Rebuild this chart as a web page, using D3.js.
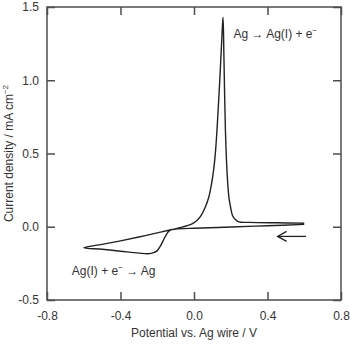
<!DOCTYPE html>
<html>
<head>
<meta charset="utf-8">
<script src="https://cdn.jsdelivr.net/npm/d3@7"></script>
<style>
  body { margin: 0; background: #fff; }
  text { font-family: "Liberation Sans", Arial, sans-serif; fill: #333; }
</style>
</head>
<body>
<svg width="350" height="344"></svg>
<script>
// cathodic sweep, 0.6 V -> -0.6 V
var cathodicE = [0.6, 0.4, 0.2, 0.0, -0.1, -0.125, -0.14, -0.156, -0.17, -0.184, -0.2, -0.22, -0.25, -0.3, -0.4, -0.5, -0.6];
var cathodicI = [0.016, 0.007, -0.002, -0.01, -0.016, -0.021, -0.034, -0.066, -0.1, -0.134, -0.163, -0.177, -0.184, -0.18, -0.167, -0.154, -0.143];

// anodic sweep, -0.6 V -> 0.6 V
var anodicE = [-0.6, -0.5, -0.4, -0.3, -0.2, -0.12, -0.06, -0.02, 0.0, 0.02, 0.04, 0.06, 0.08, 0.095, 0.108, 0.118, 0.127, 0.136, 0.145, 0.152, 0.158,
  0.163, 0.171, 0.18, 0.19, 0.198, 0.21, 0.225, 0.245, 0.3, 0.45, 0.6];
var anodicI = [-0.143, -0.12, -0.096, -0.07, -0.042, -0.019, -0.001, 0.014, 0.028, 0.048, 0.08, 0.13, 0.2, 0.29, 0.4, 0.53, 0.7, 0.9, 1.12, 1.3, 1.43,
  1.15, 0.66, 0.37, 0.2, 0.14, 0.075, 0.05, 0.033, 0.03, 0.027, 0.025];

var xTicks = [-0.8, -0.4, 0.0, 0.4, 0.8];
var yTicks = [-0.5, 0.0, 0.5, 1.0, 1.5];

// annotation positions in data units
var arrowE = [0.61, 0.455];
var arrowI = [-0.066, -0.066];
var oxLabel = [0.215, 1.288];
var redLabel = [-0.665, -0.327];

var svg = d3.select("svg");
var padL = 47, padR = 341, padT = 7, padB = 300;

var x = d3.scaleLinear().domain([-0.8, 0.8]).range([padL, padR]);
var y = d3.scaleLinear().domain([-0.5, 1.5]).range([padB, padT]);

var axisColor = "#4d4d4d";
var tickLen = 8;

function fmt(d) { return d.toFixed(1); }

// bottom axis with labels
svg.append("g")
  .attr("transform", "translate(0," + padB + ")")
  .call(d3.axisBottom(x).tickValues(xTicks).tickFormat(fmt).tickSizeInner(-tickLen).tickSizeOuter(0).tickPadding(11));
// left axis with labels
svg.append("g")
  .attr("transform", "translate(" + padL + ",0)")
  .call(d3.axisLeft(y).tickValues(yTicks).tickFormat(fmt).tickSizeInner(-tickLen).tickSizeOuter(0).tickPadding(8));
// top and right, ticks only
svg.append("g")
  .attr("transform", "translate(0," + padT + ")")
  .call(d3.axisTop(x).tickValues(xTicks).tickFormat("").tickSizeInner(-tickLen).tickSizeOuter(0));
svg.append("g")
  .attr("transform", "translate(" + padR + ",0)")
  .call(d3.axisRight(y).tickValues(yTicks).tickFormat("").tickSizeInner(-tickLen).tickSizeOuter(0));

svg.selectAll(".domain").remove();
svg.selectAll(".tick line").attr("stroke", axisColor).attr("stroke-width", 1.5);
svg.selectAll(".tick text").attr("font-size", "12px").attr("fill", "#333")
  .attr("font-family", "'Liberation Sans', Arial, sans-serif");

svg.append("rect")
  .attr("x", padL).attr("y", padT)
  .attr("width", padR - padL).attr("height", padB - padT)
  .attr("fill", "none").attr("stroke", axisColor).attr("stroke-width", 1.5);

// the voltammogram
var pts = cathodicE.map(function (e, i) { return [e, cathodicI[i]]; })
  .concat(anodicE.map(function (e, i) { return [e, anodicI[i]]; }).slice(1));

var line = d3.line()
  .x(function (d) { return x(d[0]); })
  .y(function (d) { return y(d[1]); })
  .curve(d3.curveCatmullRom.alpha(0.5));

svg.append("path")
  .datum(pts)
  .attr("d", line)
  .attr("fill", "none")
  .attr("stroke", "#222")
  .attr("stroke-width", 1.4)
  .attr("stroke-linejoin", "round");

// scan direction arrow
svg.append("line")
  .attr("x1", x(arrowE[0])).attr("y1", y(arrowI[0]))
  .attr("x2", x(arrowE[1])).attr("y2", y(arrowI[1]))
  .attr("stroke", "#222").attr("stroke-width", 1.3);
svg.append("path")
  .attr("d", "M" + (x(arrowE[1]) + 9) + "," + (y(arrowI[1]) - 5) + "L" + x(arrowE[1]) + "," + y(arrowI[1]) +
    "L" + (x(arrowE[1]) + 9) + "," + (y(arrowI[1]) + 5))
  .attr("fill", "none").attr("stroke", "#222").attr("stroke-width", 1.3);

// reaction labels
var t1 = svg.append("text")
  .attr("x", x(oxLabel[0])).attr("y", y(oxLabel[1]))
  .attr("font-size", "12px");
t1.append("tspan").text("Ag \u2192 Ag(I) + e");
t1.append("tspan").attr("dy", -5).attr("font-size", "8px").text("\u2212");

var t2 = svg.append("text")
  .attr("x", x(redLabel[0])).attr("y", y(redLabel[1]))
  .attr("font-size", "12px");
t2.append("tspan").text("Ag(I) + e");
t2.append("tspan").attr("dy", -5).attr("font-size", "8px").text("\u2212");
t2.append("tspan").attr("dy", 5).text(" \u2192 Ag");

// axis titles
svg.append("text")
  .attr("x", (padL + padR) / 2).attr("y", 337)
  .attr("text-anchor", "middle")
  .attr("font-size", "12px")
  .text("Potential vs. Ag wire / V");

var yt = svg.append("text")
  .attr("transform", "translate(13," + (padT + padB) / 2 + ") rotate(-90)")
  .attr("text-anchor", "middle")
  .attr("font-size", "12px");
yt.append("tspan").text("Current density / mA cm");
yt.append("tspan").attr("dy", -5).attr("font-size", "8px").text("\u22122");
</script>
</body>
</html>
